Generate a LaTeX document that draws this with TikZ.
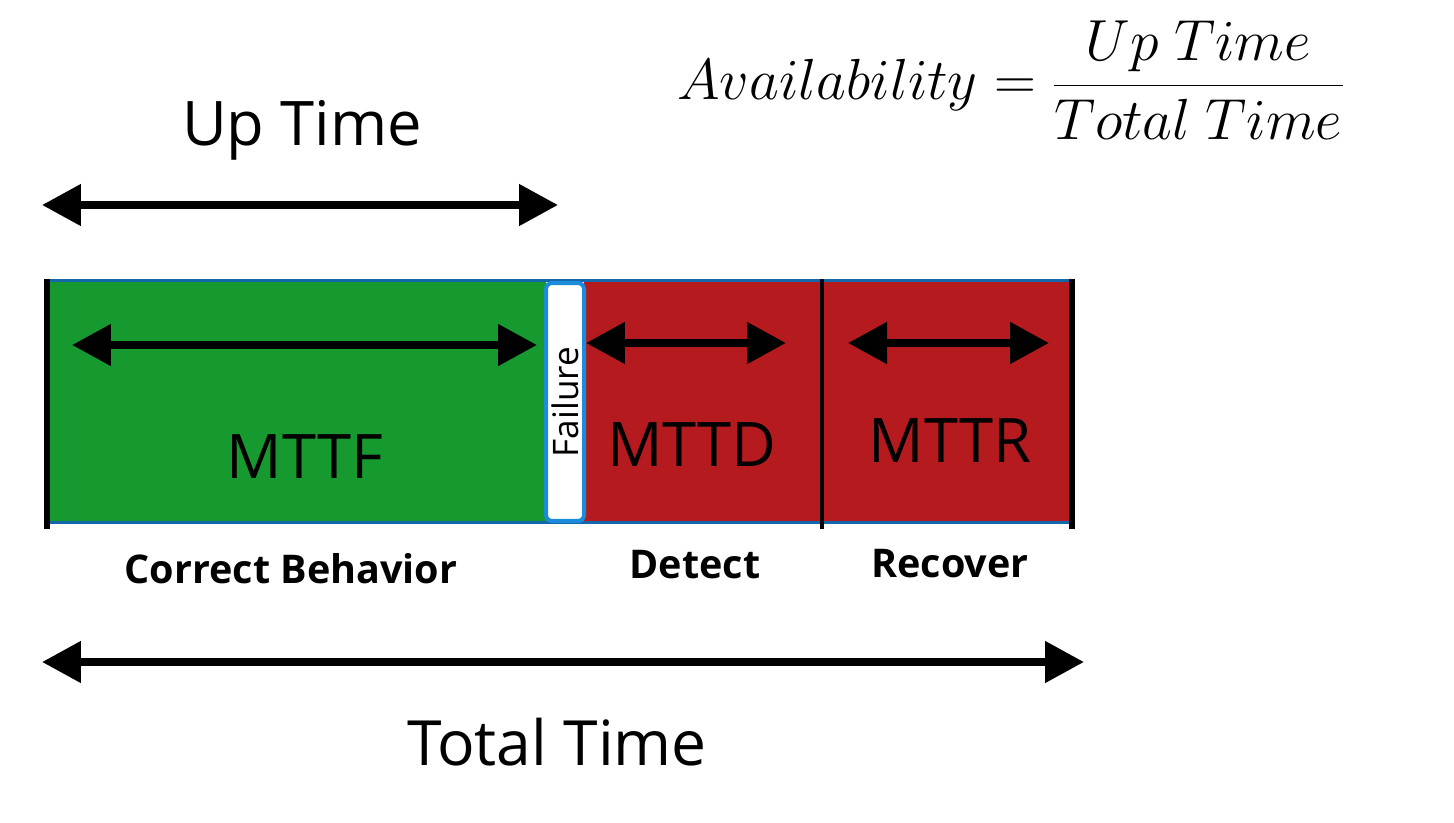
\documentclass[tikz,border=0pt]{standalone}
\usepackage{fix-cm}
\usepackage{fontspec}
\setmainfont{Open Sans}
\usetikzlibrary{arrows.meta,positioning}
\definecolor{okgreen}{HTML}{169A2F}
\definecolor{badred}{HTML}{B51B1E}
\definecolor{edgeblue}{HTML}{1467A8}
\definecolor{failblue}{HTML}{1B8BDC}

\begin{document}
\begin{tikzpicture}[x=0.02cm,y=-0.02cm,
  span/.style={{Triangle[length=0.78cm,width=0.8cm]}-{Triangle[length=0.78cm,width=0.8cm]},line width=0.16cm},
  tick/.style={line width=0.12cm},
  big/.style={font=\fontsize{35}{40}\selectfont,anchor=base,inner sep=0pt},
  sub/.style={font=\bfseries\fontsize{22.5}{27}\selectfont,anchor=base,inner sep=0pt},
  failbox/.style={draw=failblue,line width=0.08cm,fill=white,rounded corners=0.12cm,minimum width=4.76cm,minimum height=0.76cm,inner sep=0pt,font=\fontsize{20}{24}\selectfont}]
\useasboundingbox (0,0) rectangle (1454,822);
% bar
\fill[okgreen] (47,280) rectangle (546,522);
\fill[badred] (584,280) rectangle (1072,522);
\draw[edgeblue,line width=0.06cm] (47,280) -- (1072,280) (47,522) -- (1072,522);
\node[failbox,rotate=90] (fail) at (565,402) {Failure};
\draw[tick] (47,279) -- (47,529);
\draw[tick,line width=0.08cm] (822,279) -- (822,529);
\draw[tick] (1072,279) -- (1072,529);
% span ends
\coordinate (upL) at (42,205);   \coordinate (upR) at (558,205);
\coordinate (mttfL) at (72,345); \coordinate (mttfR) at (537,345);
\coordinate (mttdL) at (586,343); \coordinate (mttdR) at (786,343);
\coordinate (mttrL) at (848,343); \coordinate (mttrR) at (1049,343);
\coordinate (totL) at (42,662);  \coordinate (totR) at (1084,662);
\draw[span] (upL) -- (upR);
\draw[span] (mttfL) -- (mttfR);
\draw[span] (mttdL) -- (mttdR);
\draw[span] (mttrL) -- (mttrR);
\draw[span] (totL) -- (totR);
% labels
\node[big] (uptime) at (302,145) {Up Time};
\node[big] (mttf) at (305,478) {MTTF};
\node[big] (mttd) at (692,466) {MTTD};
\node[big] (mttr) at (950,462) {MTTR};
\node[sub] (correct) at (291,583) {Correct Behavior};
\node[sub] (detect) at (695,578) {Detect};
\node[sub] (recover) at (950,577) {Recover};
\node[big,font=\fontsize{35.5}{42}\selectfont] (total) at (557,765) {Total Time};
\node[font=\fontsize{33}{40}\selectfont] (avail) at (1011,80) {$\displaystyle Availability=\frac{Up\ Time}{Total\ Time}$};
\end{tikzpicture}
\end{document}
